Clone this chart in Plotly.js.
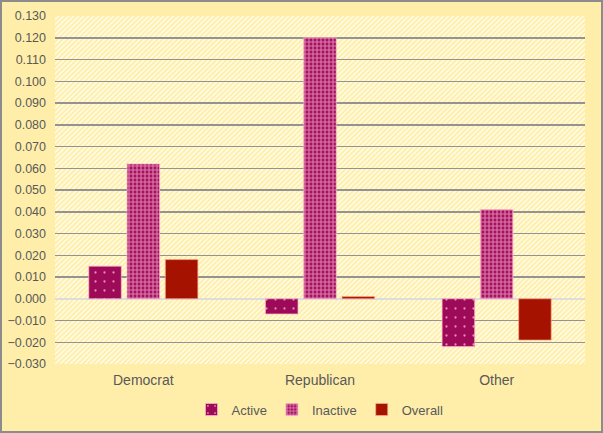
<!DOCTYPE html>
<html><head><meta charset="utf-8">
<script src="https://cdn.plot.ly/plotly-3.0.1.min.js"></script>
<style>
html,body{margin:0;padding:0;background:#ffeeaa;}
#wrap{width:603px;height:433px;box-sizing:border-box;border:2px solid #8c8c8c;background:#ffeeaa;}
#chart{width:599px;height:429px;}
</style></head><body>
<div id="wrap"><div id="chart"></div></div>
<script>
const categories = ["Democrat", "Republican", "Other"];
const activeVals = [0.015, -0.007, -0.022];
const inactiveVals = [0.062, 0.120, 0.041];
const overallVals = [0.018, 0.001, -0.019];
const tickVals = [-0.03,-0.02,-0.01,0,0.01,0.02,0.03,0.04,0.05,0.06,0.07,0.08,0.09,0.10,0.11,0.12,0.13];

const stripeSvg = "<svg xmlns='http://www.w3.org/2000/svg' width='600' height='400'>" +
  "<defs><pattern id='p' width='4' height='4' patternUnits='userSpaceOnUse' patternTransform='rotate(45)'>" +
  "<rect width='4' height='4' fill='#fffbe3'/><rect width='2' height='4' fill='#ffeea8'/></pattern></defs>" +
  "<rect width='600' height='400' fill='url(#p)'/></svg>";
const stripeUri = "data:image/svg+xml;base64," + btoa(stripeSvg);

const font = {family: "Liberation Sans, Arial, sans-serif", size: 12, color: "#595959"};

const traces = [
  {type: "bar", name: "Active", x: categories, y: activeVals,
   marker: {color: "#9c0a58", line: {color: "rgba(255,180,200,0.7)", width: 1},
            pattern: {shape: ".", fgcolor: "#e88ab8", bgcolor: "#9c0a58", size: 9, solidity: 0.05}}},
  {type: "bar", name: "Inactive", x: categories, y: inactiveVals,
   marker: {color: "#a8185f", line: {color: "rgba(255,180,200,0.7)", width: 1},
            pattern: {shape: "+", fgcolor: "#de78ae", bgcolor: "#a3145e", size: 4, solidity: 0.5}}},
  {type: "bar", name: "Overall", x: categories, y: overallVals,
   marker: {color: "#a51200", line: {color: "rgba(255,170,130,0.7)", width: 1}}}
];

const layout = {
  width: 599, height: 429,
  margin: {l: 53, r: 16, t: 14, b: 67, autoexpand: false},
  paper_bgcolor: "#ffeeaa",
  plot_bgcolor: "rgba(0,0,0,0)",
  font: font,
  barmode: "group",
  bargap: 0.35,
  bargroupgap: 0.15,
  showlegend: true,
  legend: {orientation: "h", x: 0.5, xanchor: "center", yref: "container", y: 0.05, yanchor: "middle",
           font: {family: font.family, size: 13, color: "#595959"}, itemwidth: 30, traceorder: "normal",
           bgcolor: "rgba(0,0,0,0)"},
  xaxis: {showgrid: false, zeroline: false, showline: false, ticks: "",
          tickfont: {family: font.family, size: 14, color: "#595959"}, ticklabelstandoff: 6},
  yaxis: {range: [-0.03, 0.13], tickvals: tickVals, tickformat: ".3f",
          showgrid: true, gridcolor: "#939393", gridwidth: 1.5,
          zeroline: true, zerolinecolor: "#dddddd", zerolinewidth: 2,
          showline: false, ticks: "", tickfont: {family: font.family, size: 12.5, color: "#595959"}, ticklabelstandoff: 8},
  images: [{source: stripeUri, xref: "paper", yref: "paper", x: 0, y: 1,
            sizex: 1, sizey: 1, sizing: "stretch", layer: "below"}]
};

Plotly.newPlot("chart", traces, layout, {displayModeBar: false, staticPlot: true});
</script>
</body></html>
